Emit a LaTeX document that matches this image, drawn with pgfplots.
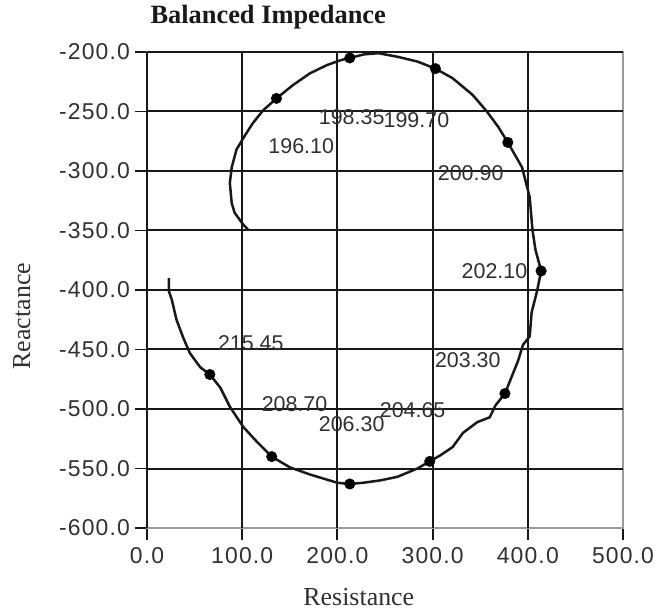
\documentclass[border=0pt]{standalone}
\usepackage{fontspec}
\setmainfont{Liberation Serif}
\newfontfamily\sansfont{Liberation Sans}
\newfontfamily\tickfont[LetterSpace=5]{Liberation Sans}
\usepackage{pgfplots}
\pgfplotsset{compat=1.18}
\definecolor{gridc}{HTML}{181818}
\definecolor{borderc}{HTML}{9A9A9A}
\definecolor{txtc}{HTML}{303030}
\begin{document}
\begin{tikzpicture}
\path[use as bounding box] (-147bp,-84bp) rectangle (512bp,528bp);
\begin{axis}[
  scale only axis, width=476bp, height=476bp,
  xmin=0, xmax=500, ymin=-600, ymax=-200,
  xtick={0,100,...,500}, ytick={-600,-550,...,-200},
  extra x ticks={0,100,200,300,400}, extra x tick labels={},
  extra x tick style={grid=major, major tick length=0pt},
  extra y ticks={-550,-500,...,-200}, extra y tick labels={},
  extra y tick style={grid=major, major tick length=0pt},
  major grid style={draw=gridc, line width=2bp},
  axis line style={draw=borderc, line width=1.5bp},
  tick align=outside, xtick pos=bottom, ytick pos=left,
  major tick length=12bp,
  tick style={draw=gridc, line width=1.8bp},
  /pgf/number format/.cd, fixed, fixed zerofill, precision=1, assume math mode=true,
  /pgfplots/.cd,
  ticklabel style={font=\tickfont\fontsize{23}{23}\selectfont, text=txtc, inner sep=2bp},
  yticklabel style={xshift=-3bp},
  xticklabel style={yshift=-5bp},
  xlabel={Resistance}, ylabel={Reactance},
  label style={font=\fontsize{26}{26}\selectfont, text=txtc},
  xlabel style={at={(axis description cs:0.445,-0.1618)}, anchor=base},
  ylabel style={at={(axis description cs:-0.2455,0.445)}, anchor=base},
  title={\textbf{Balanced Impedance}},
  title style={at={(axis description cs:0,1)}, anchor=base west, yshift=23bp, xshift=0bp, font=\fontsize{26.5}{26.5}\selectfont, text=black!90},
]
\addplot[black!90, line width=2.5bp, line join=round] coordinates {
(106,-349) (101,-345) (92,-335) (89,-327) (87,-310) (89,-297) (94,-282) (103,-270) (111,-260) (122,-249) (136,-239) (153,-228) (171,-218) (189,-211) (203,-207) (213,-205) (228,-202) (243,-201) (263,-204) (284,-208) (303,-214) (321,-222) (342,-236) (357,-250) (369,-263) (379,-276) (394,-297) (402,-322) (404,-341) (405,-350) (408,-366) (414,-384) (410,-400) (404,-419) (402,-439) (395,-446) (390,-459) (383,-473) (376,-487) (366,-497) (360,-507) (347,-511) (332,-520) (321,-532) (308,-539) (297,-544) (284,-550) (263,-557) (245,-560) (227,-562) (213,-563) (200,-562) (171,-555) (150,-549) (131,-540) (116,-528) (101,-515) (87,-498) (77,-482) (66,-471) (56,-465) (45,-453) (38,-440) (31,-425) (26,-408) (23,-401) (23,-390)
};
\addplot[only marks, mark=*, mark size=5.3bp, black] coordinates {
(136,-239) (213,-205) (303,-214) (379,-276) (414,-384) (376,-487) (297,-544) (213,-563) (131,-540) (66,-471)
};
\begin{scope}[every node/.style={font=\sansfont\fontsize{21.5}{21.5}\selectfont, text=txtc, inner sep=0pt}]
\node at (axis cs:162,-279) {196.10};
\node at (axis cs:215,-255) {198.35};
\node at (axis cs:283,-257) {199.70};
\node at (axis cs:340,-302) {200.90};
\node at (axis cs:365,-384) {202.10};
\node at (axis cs:337,-459) {203.30};
\node at (axis cs:279,-501) {204.65};
\node at (axis cs:215,-513) {206.30};
\node at (axis cs:155,-496) {208.70};
\node at (axis cs:109,-445) {215.45};
\end{scope}
\end{axis}
\end{tikzpicture}
\end{document}
